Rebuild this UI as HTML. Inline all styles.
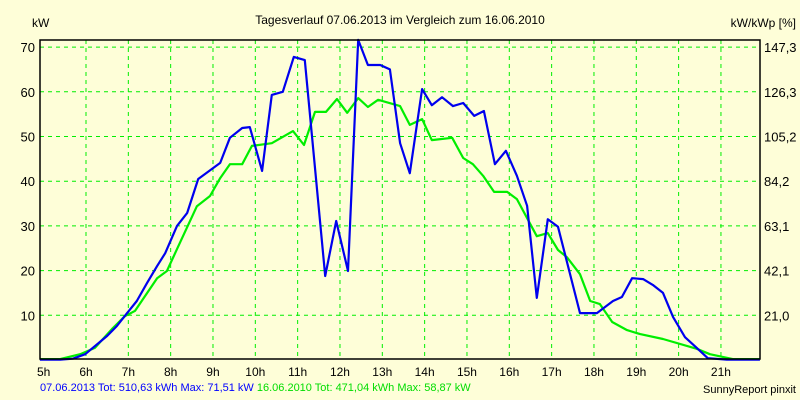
<!DOCTYPE html>
<html><head><meta charset="utf-8"><style>
html,body{margin:0;padding:0;background:#fefed8;}
svg{display:block;font-family:"Liberation Sans",sans-serif;}
</style></head><body>
<svg id="chart" width="800" height="400">
<rect width="800" height="400" fill="#fefed8"/>
<text x="400" y="24" text-anchor="middle" font-size="12">Tagesverlauf 07.06.2013 im Vergleich zum 16.06.2010</text>
<text x="32" y="27" font-size="12">kW</text>
<text x="796" y="27" text-anchor="end" font-size="12">kW/kWp [%]</text>
<g id="grid"></g>
<g id="series"></g>
<rect x="40" y="40" width="720" height="319" fill="none" stroke="#000" stroke-width="1.5"/>
<g id="axes"></g>
<text x="40" y="391" font-size="11"><tspan fill="#0000ff">07.06.2013 Tot: 510,63 kWh Max: 71,51 kW</tspan><tspan fill="#00dd00"> 16.06.2010 Tot: 471,04 kWh Max: 58,87 kW</tspan></text>
<text x="796" y="393" text-anchor="end" font-size="11">SunnyReport pinxit</text>
</svg>
<script>
const xTicks = [5,6,7,8,9,10,11,12,13,14,15,16,17,18,19,20,21];
const yTicks = [10,20,30,40,50,60,70];
const yRightLabels = ["21,0","42,1","63,1","84,2","105,2","126,3","147,3"];
const blueHours = [4.91,5.39,5.69,5.98,6.50,6.73,6.97,7.20,7.44,7.68,7.87,8.15,8.39,8.65,9.17,9.40,9.69,9.87,10.16,10.39,10.65,10.91,11.17,11.65,11.91,12.19,12.43,12.66,12.95,13.18,13.42,13.65,13.94,14.17,14.41,14.67,14.91,15.17,15.40,15.66,15.92,16.18,16.42,16.65,16.91,17.15,17.67,18.07,18.45,18.66,18.90,19.16,19.39,19.63,19.87,20.15,20.43,20.69,21.14,21.92];
const blueKW = [0.1,0.1,0.3,1.3,5.4,7.6,10.5,13.2,17.2,21.0,23.9,30.0,32.9,40.5,44.1,49.7,51.9,52.1,42.3,59.3,60.0,67.8,67.1,18.8,31.1,19.9,71.6,66.0,66.0,65.0,48.5,41.8,60.6,57.0,58.8,56.8,57.5,54.6,55.7,43.8,46.8,41.2,34.5,13.9,31.5,29.8,10.5,10.5,13.2,14.1,18.3,18.1,16.8,15.0,9.6,5.1,2.7,0.4,0.1,0.1];
const greenHours = [4.91,5.39,5.86,6.21,6.61,6.92,7.16,7.68,7.91,8.15,8.62,8.93,9.17,9.40,9.69,9.92,10.39,10.89,11.15,11.41,11.67,11.93,12.17,12.43,12.66,12.90,13.42,13.65,13.94,14.17,14.65,14.91,15.14,15.38,15.64,15.95,16.18,16.65,16.91,17.15,17.36,17.67,17.91,18.14,18.43,18.78,19.09,19.63,20.43,20.74,21.28,21.92];
const greenKW = [0.2,0.2,1.3,2.7,6.9,9.8,11.0,18.3,19.9,24.8,34.4,36.7,40.7,43.8,43.8,47.9,48.5,51.2,48.1,55.5,55.5,58.4,55.3,58.6,56.6,58.2,56.8,52.6,53.9,49.2,49.7,45.2,43.8,41.2,37.6,37.6,36.0,27.7,28.4,24.6,23.0,19.2,13.2,12.5,8.5,6.7,5.8,4.7,2.5,1.3,0.2,0.2];

const NS = "http://www.w3.org/2000/svg";
const Y0 = 360;
function xScale(h){ return 86 + (h - 6) * 42.33; }
function yScale(v){ return Y0 - v * 4.47; }
const grid = document.getElementById('grid');
const axes = document.getElementById('axes');
function mk(tag, attrs, parent){ const e = document.createElementNS(NS, tag); for (const k in attrs) e.setAttribute(k, attrs[k]); parent.appendChild(e); return e; }

xTicks.forEach(h => {
  const x = xScale(h);
  if (h > 5) {
    const l = mk('line', {x1:x, x2:x, y1:40, y2:359, stroke:'#00ee00', 'stroke-dasharray':'4,4'}, grid);
    
    
  }
  const t = mk('text', {x:x, y:376, 'text-anchor':'middle', 'font-size':12}, axes);
  t.textContent = h + 'h';
  
  
});
yTicks.forEach((v, i) => {
  const y = yScale(v);
  const l = mk('line', {x1:40, x2:760, y1:y, y2:y, stroke:'#00ee00', 'stroke-dasharray':'4,4'}, grid);
  
  
  const t = mk('text', {x:35, y:y + 5, 'text-anchor':'end', 'font-size':13}, axes);
  t.textContent = v;
  
  
  const r = mk('text', {x:764, y:y + 5, 'font-size':13}, axes);
  r.textContent = yRightLabels[i];
  
  
});
const series = document.getElementById('series');
function line(hours, vals, color, name){
  const pts = hours.map((h, i) => xScale(h).toFixed(1) + ',' + yScale(vals[i]).toFixed(1)).join(' ');
  const p = mk('polyline', {points:pts, fill:'none', stroke:color, 'stroke-width':2.2, 'stroke-linejoin':'round'}, series);
  
  
}
line(greenHours, greenKW, '#00ee00', 'series-2010-line');
line(blueHours, blueKW, '#0000ee', 'series-2013-line');
</script>
</body></html>
